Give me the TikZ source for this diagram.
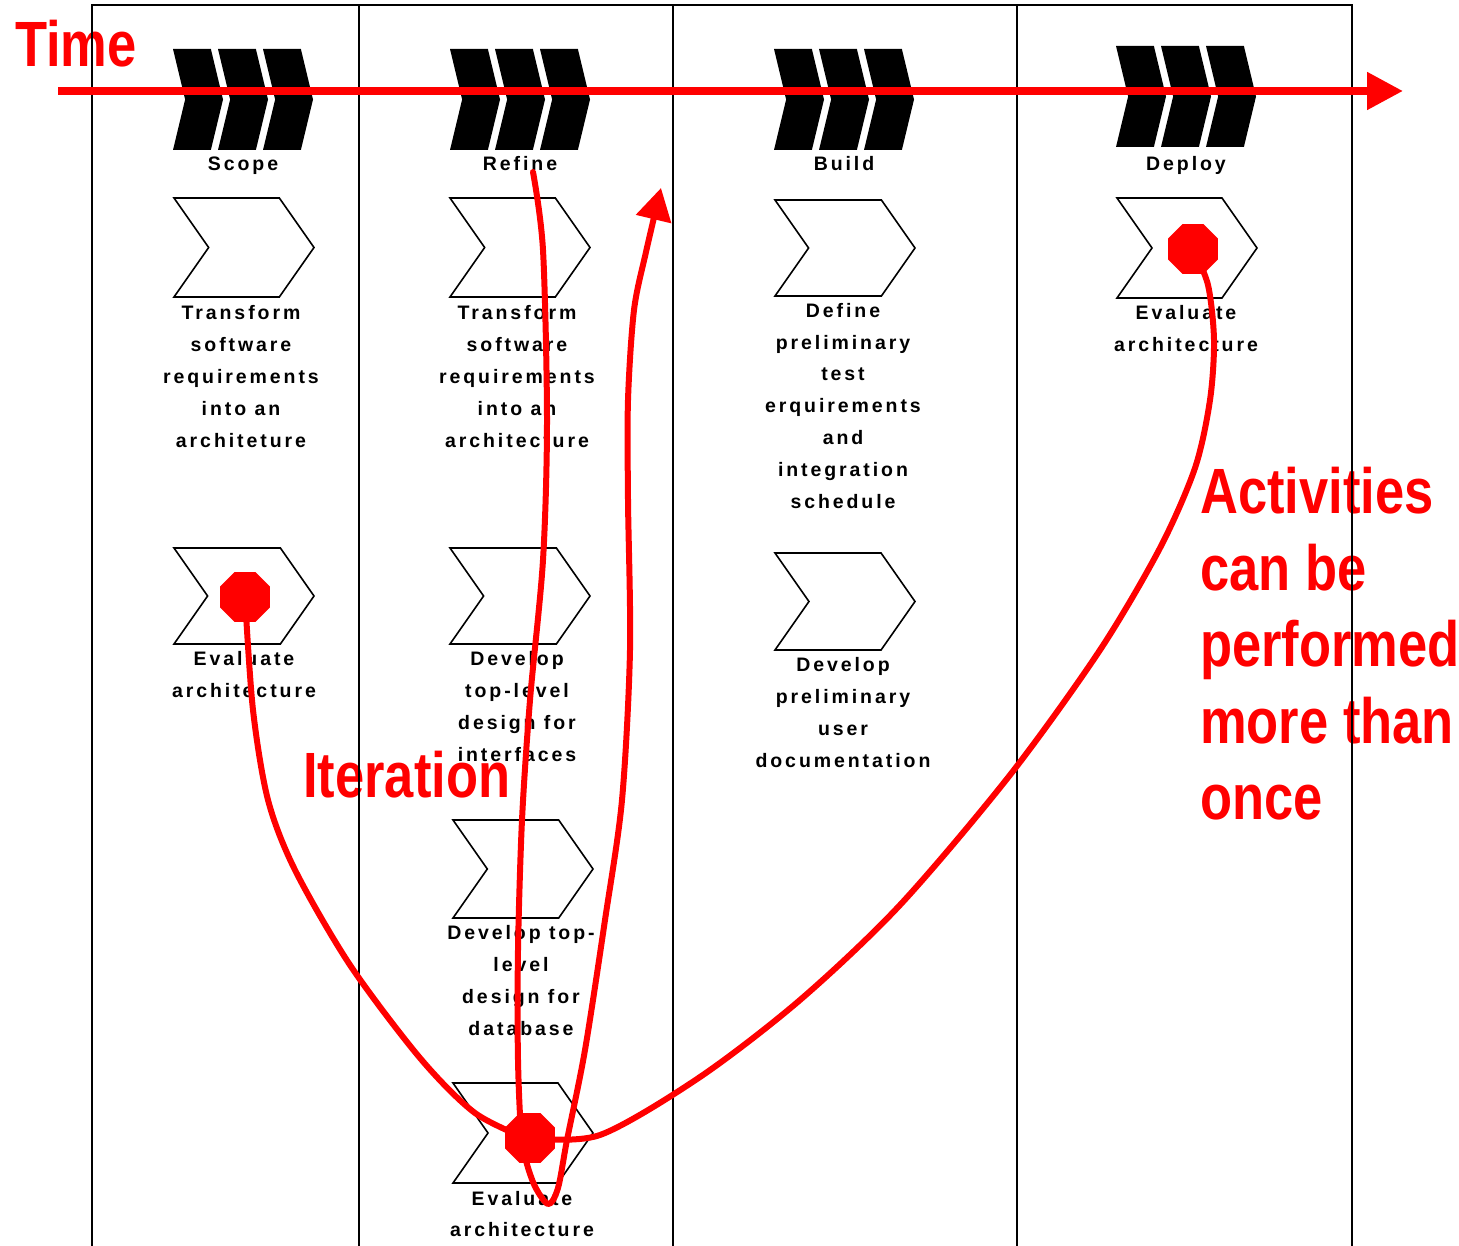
\documentclass[tikz,border=0pt]{standalone}
\usepackage{fontspec}
\setmainfont{Liberation Sans}
\newfontfamily\labfont{Liberation Sans}[LetterSpace=15]
\newfontfamily\notefont{Liberation Sans}[FakeStretch=0.82]
\usetikzlibrary{shapes.symbols,shapes.geometric,arrows.meta}

\tikzset{
  lane/.style={line width=2pt,black},
  phasepiece/.style={signal, signal from=west, signal to=east, signal pointer angle=153,
    fill=black, draw=none, minimum width=50pt, minimum height=101pt, inner sep=0pt},
  activity/.style={signal, signal from=west, signal to=east, signal pointer angle=110,
    draw=black, line width=1.6pt, fill=white, minimum width=140pt, inner sep=0pt},
  steplabel/.style={font=\labfont\bfseries\fontsize{19.5}{32}\selectfont, align=center,
    anchor=north, inner sep=0pt},
  phaselabel/.style={font=\labfont\bfseries\fontsize{19.5}{22}\selectfont, anchor=base, inner sep=0pt},
  stopsign/.style={regular polygon, regular polygon sides=8, fill=red, draw=none,
    minimum size=54pt, inner sep=0pt},
  redline/.style={red, line width=6pt, line cap=round, line join=round},
  note/.style={font=\notefont\bfseries\fontsize{64}{76.5}\selectfont, text=red, inner sep=0pt},
}

% three black chevron pieces and the phase name below them
\newcommand\phasemark[4]{%
  \node[phasepiece] (#1-a) at (#2+25,#3) {};
  \node[phasepiece] (#1-b) at (#2+70,#3) {};
  \node[phasepiece] (#1-c) at (#2+115,#3) {};
  \node[phaselabel] (#1-lab) at (#2+70,171) {#4};
}

\begin{document}
\begin{tikzpicture}[x=1pt,y=-1pt]
\useasboundingbox (0,0) rectangle (1459,1246);

% annotations
\node[note, anchor=base west] (time) at (15,67) {Time};
\node[note, anchor=base west] (iter) at (303,797) {Iteration};
\node[note, anchor=north west, align=left] (again) at (1200,467)
  {\rule{0pt}{46pt}Activities\\can be\\performed\\more than\\once};

% swimlane frame
\draw[lane] (92,1246) -- (92,5) -- (1352,5) -- (1352,1246);
\draw[lane] (359,5) -- (359,1246);
\draw[lane] (673,5) -- (673,1246);
\draw[lane] (1017,5) -- (1017,1246);

% phases
\phasemark{scope}{173}{99.5}{Scope}
\phasemark{refine}{450}{99.5}{Refine}
\phasemark{build}{774}{99.5}{Build}
\phasemark{deploy}{1116}{96.5}{Deploy}

% Scope activities
\node[activity, minimum height=99pt] (s1) at (244,247.5) {};
\node[steplabel] (s1t) at (241,305) {\rule{0pt}{14pt}Transform\\software\\requirements\\into an\\architeture};
\node[activity, minimum height=96pt] (s2) at (244,596) {};
\node[steplabel] (s2t) at (244,651) {\rule{0pt}{14pt}Evaluate\\architecture};

% Refine activities
\node[activity, minimum height=99pt] (r1) at (520,247.5) {};
\node[steplabel] (r1t) at (517,305) {\rule{0pt}{14pt}Transform\\software\\requirements\\into an\\architecture};
\node[activity, minimum height=96pt] (r2) at (520,596) {};
\node[steplabel] (r2t) at (517,651) {\rule{0pt}{14pt}Develop\\top-level\\design for\\interfaces};
\node[activity, minimum height=98pt] (r3) at (523,869) {};
\node[steplabel] (r3t) at (521,925) {\rule{0pt}{14pt}Develop top-\\level\\design for\\database};
\node[activity, minimum height=100pt] (r4) at (523,1133) {};
\node[steplabel, font=\labfont\bfseries\fontsize{19.5}{31}\selectfont] (r4t) at (522,1191)
  {\rule{0pt}{14pt}Evaluate\\architecture};

% Build activities
\node[activity, minimum height=96pt] (b1) at (845,248) {};
\node[steplabel, font=\labfont\bfseries\fontsize{19.5}{31.8}\selectfont] (b1t) at (843,303)
  {\rule{0pt}{14pt}Define\\preliminary\\test\\erquirements\\and\\integration\\schedule};
\node[activity, minimum height=97pt] (b2) at (845,601.5) {};
\node[steplabel] (b2t) at (843,657) {\rule{0pt}{14pt}Develop\\preliminary\\user\\documentation};

% Deploy activities
\node[activity, minimum height=100pt] (d1) at (1187,248) {};
\node[steplabel] (d1t) at (1186,305) {\rule{0pt}{14pt}Evaluate\\architecture};

% time axis
\coordinate (tstart) at (58,91);
\coordinate (tend) at (1403,91);
\draw[red, line width=8pt, -{Triangle[length=36pt,width=36pt]}] (tstart) -- (tend);

% stop signs on the evaluations
\node[stopsign] (o1) at (245,597) {};
\node[stopsign] (o2) at (530,1138) {};
\node[stopsign] (o3) at (1193,249) {};

% repeated evaluation links
\draw[redline] plot[smooth] coordinates {(o1.center) (253,710) (268,800) (295,870)
  (350,965) (420,1058) (475,1113) (530,1140)};
\draw[redline] plot[smooth] coordinates {(o2.center) (600,1135) (700,1077) (800,1000)
  (900,905) (1010,775) (1100,650) (1160,548) (1195,468) (1210,400) (1214,340)
  (1208,285) (o3.center)};

% iteration loop
\coordinate (loopstart) at (533,172);
\coordinate (looptip) at (661,188);
\draw[redline, -{Triangle[length=32pt,width=35pt]}] plot[smooth] coordinates {(loopstart)
  (543,250) (547,420) (543,560) (530,700) (522,820) (518,950) (518,1060) (522,1140)
  (533,1182) (548,1204) (558,1188) (567,1140) (585,1050) (605,920) (622,800)
  (630,650) (628,500) (628,400) (634,310) (646,252) (looptip)};
\end{tikzpicture}
\end{document}
